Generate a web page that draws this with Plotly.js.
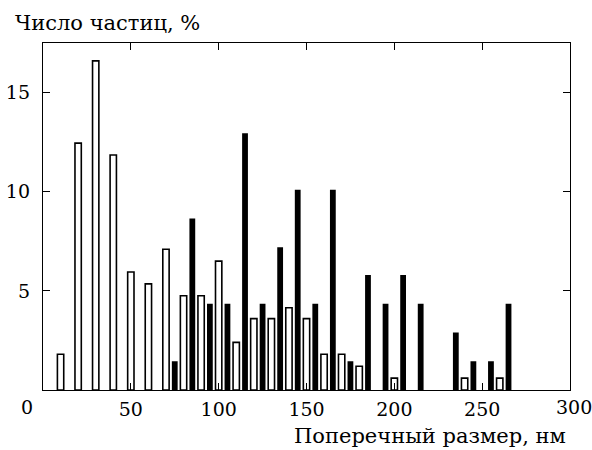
<!DOCTYPE html>
<html>
<head>
<meta charset="utf-8">
<script src="https://cdn.plot.ly/plotly-3.0.1.min.js"></script>
<style>html,body{margin:0;padding:0;background:#fff;}#chart{width:592px;height:450px;}</style>
</head>
<body>
<div id="chart"></div>
<script>
// Size bins (nm) and particle share (%)
const whiteSizes = [10, 20, 30, 40, 50, 60, 70, 80, 90, 100, 110, 120, 130, 140, 150, 160, 170, 180, 200, 240, 260];
const whiteValues = [1.8, 12.45, 16.6, 11.85, 5.95, 5.35, 7.1, 4.75, 4.75, 6.5, 2.4, 3.6, 3.6, 4.15, 3.6, 1.8, 1.8, 1.2, 0.6, 0.6, 0.6];
const blackSizes = [75, 85, 95, 105, 115, 125, 135, 145, 155, 165, 175, 185, 195, 205, 215, 235, 245, 255, 265];
const blackValues = [1.45, 8.65, 4.35, 4.35, 12.95, 4.35, 7.2, 10.1, 4.35, 10.1, 1.45, 5.8, 4.35, 5.8, 4.35, 2.9, 1.45, 1.45, 4.35];
const xTickVals = [50, 100, 150, 200, 250];
const xTickText = ['50', '100', '150', '200', '250'];
const yTickVals = [5, 10, 15];
const yTickText = ['5', '10', '15'];
const xTitle = 'Поперечный размер, нм';
const yTitle = 'Число частиц, %';

const FONT = 'DejaVu Serif, serif';
const TICK = {family: FONT, size: 19, color: '#000'};
const TITLE = {family: FONT, size: 21, color: '#000'};

const traces = [
  {
    type: 'bar', x: whiteSizes, y: whiteValues, width: 3.6,
    marker: {color: '#ffffff', line: {color: '#000000', width: 1.6}},
    hoverinfo: 'skip', showlegend: false
  },
  {
    type: 'bar', x: blackSizes, y: blackValues, width: 3.3,
    marker: {color: '#000000', line: {color: '#000000', width: 0}},
    hoverinfo: 'skip', showlegend: false
  }
];

const layout = {
  width: 592, height: 450,
  margin: {l: 43, r: 22, t: 43, b: 60, pad: 0},
  paper_bgcolor: '#ffffff', plot_bgcolor: '#ffffff',
  barmode: 'overlay',
  font: {family: FONT, size: 19, color: '#000'},
  xaxis: {
    range: [0, 300], showgrid: false, zeroline: false,
    showline: true, linecolor: '#000', linewidth: 1.2, mirror: 'allticks',
    ticks: 'inside', ticklen: 7, tickwidth: 1, tickcolor: '#000',
    tickvals: xTickVals, ticktext: xTickText,
    tickfont: TICK,
    ticklabelstandoff: 2
  },
  yaxis: {
    range: [0, 17.5], showgrid: false, zeroline: false,
    showline: true, linecolor: '#000', linewidth: 1.2, mirror: 'allticks',
    ticks: 'inside', ticklen: 7, tickwidth: 1, tickcolor: '#000',
    tickvals: yTickVals, ticktext: yTickText,
    tickfont: TICK,
    ticklabelstandoff: 8
  },
  annotations: [
    {text: '0', xref: 'paper', yref: 'paper', x: -0.031, y: 0, yshift: -4,
     xanchor: 'center', yanchor: 'top', showarrow: false, font: TICK},
    {text: '300', xref: 'paper', yref: 'paper', x: 1.007, y: 0, yshift: -4,
     xanchor: 'center', yanchor: 'top', showarrow: false, font: TICK},
    {text: xTitle, xref: 'paper', yref: 'paper', x: 0.997, y: 0, yshift: -32,
     xanchor: 'right', yanchor: 'top', showarrow: false, font: TITLE},
    {text: yTitle, xref: 'paper', yref: 'paper', x: -0.057, y: 1, yshift: 20,
     xanchor: 'left', yanchor: 'middle', showarrow: false, font: TITLE}
  ]
};

Plotly.newPlot('chart', traces, layout, {staticPlot: true, displayModeBar: false});
</script>
</body>
</html>
